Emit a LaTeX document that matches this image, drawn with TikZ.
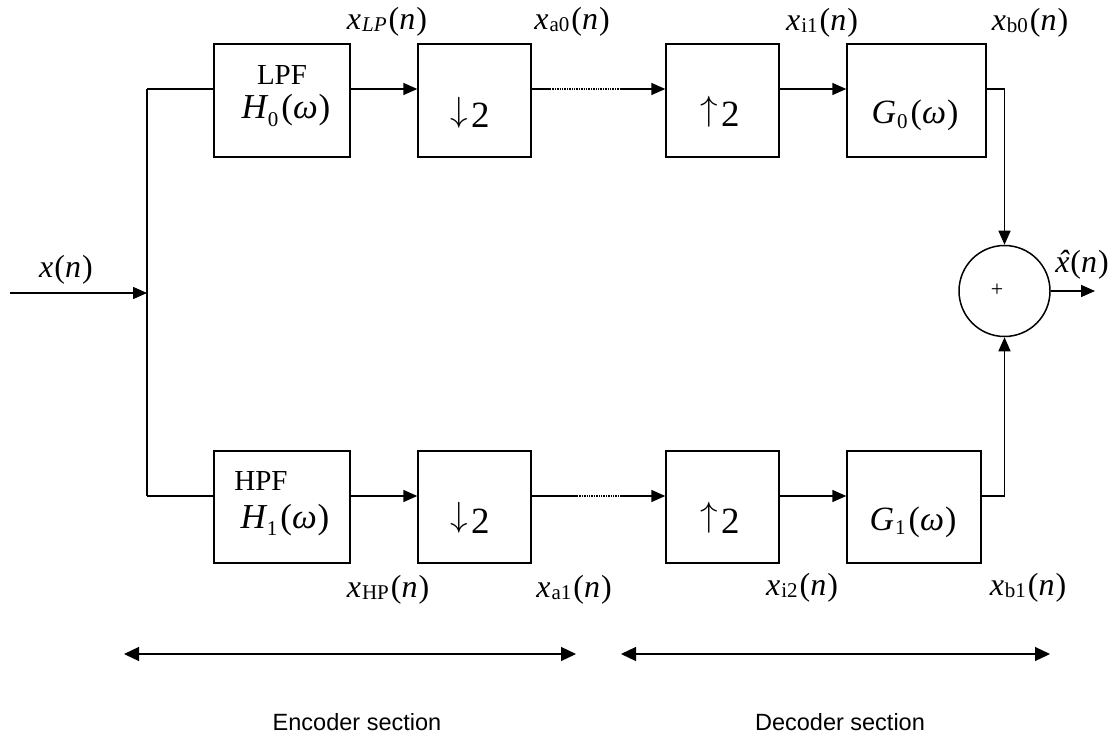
\documentclass[tikz,border=0pt]{standalone}
\usepackage{fontspec}
\setmainfont{Liberation Serif}
\newfontfamily\arialfont{Liberation Sans}
\usetikzlibrary{arrows.meta}
\newcommand\fs[1]{\fontsize{#1}{#1}\selectfont}
\newcommand\sigl[1]{{\fs{32}\itshape x}\kern1pt\raisebox{-0.2em}{\fs{21}#1}\kern2pt{\fs{32}(\textit{n}\kern1pt)}}
\newcommand\filt[4]{{\fs{#1}\itshape #2}\kern1pt\raisebox{#4}{\fs{21}#3}\kern3pt{\fs{#1}(\textit{ω}\kern1pt)}}
\newcommand\dn{\raisebox{6.8pt}{\scalebox{3.5}{$\downarrow$}}}
\newcommand\upar{\raisebox{6.8pt}{\scalebox{3.5}{$\uparrow$}}}
\begin{document}
\begin{tikzpicture}[x=1pt,y=-1pt,line width=1.5pt,
  >={Triangle[length=14pt,width=12pt]},
  blk/.style={draw,line width=1.5pt,inner sep=0pt,minimum height=113pt},
  txt/.style={inner sep=0pt,anchor=base},
  dots/.style={line width=1.1pt,dash pattern=on 1.4pt off 1pt},
  span/.style={<->,line width=1.2pt,>={Triangle[length=15pt,width=14pt]}}]
\useasboundingbox (0,0) rectangle (1115,735);
% blocks
\node[blk,minimum width=136pt] (H0) at (282,100.5) {};
\node[blk,minimum width=113pt] (D0) at (474.5,100.5) {};
\node[blk,minimum width=113pt] (U0) at (722.5,100.5) {};
\node[blk,minimum width=139pt] (G0) at (916.5,100.5) {};
\node[blk,minimum width=136pt,minimum height=112pt] (H1) at (282,507) {};
\node[blk,minimum width=113pt,minimum height=112pt] (D1) at (474.5,507) {};
\node[blk,minimum width=113pt,minimum height=112pt] (U1) at (722.5,507) {};
\node[blk,minimum width=134pt,minimum height=112pt] (G1) at (914,507) {};
\node[draw,circle,line width=1.5pt,minimum size=91pt,inner sep=0pt] (S) at (1004.5,291) {};
% block texts
\node[txt] (tLPF) at (282,85) {\fs{29}LPF};
\node[txt] (tH0) at (286,119) {\filt{35}{H}{0}{-0.75em}};
\node[txt] (tD0) at (470,128) {\dn\kern3pt\fs{37}2};
\node[txt] (tU0) at (720,127) {\upar\kern3pt\fs{37}2};
\node[txt] (tG0) at (915,124) {\filt{34}{G}{0}{-0.45em}};
\node[txt] (tHPF) at (261,490) {\fs{29}HPF};
\node[txt] (tH1) at (285,528) {\filt{35}{H}{1}{-0.75em}};
\node[txt] (tD1) at (470,533) {\dn\kern3pt\fs{37}2};
\node[txt] (tU1) at (720,533) {\upar\kern3pt\fs{37}2};
\node[txt] (tG1) at (913,530) {\filt{34}{G}{1}{-0.45em}};
\node[inner sep=0pt] (plus) at (997,290) {\fs{22}+};
% signal labels
\node[txt] (lLP) at (387,30) {\sigl{\itshape LP}};
\node[txt] (la0) at (572,30) {\sigl{a0}};
\node[txt] (li1) at (822,31) {\sigl{i1}};
\node[txt] (lb0) at (1030,31) {\sigl{b0}};
\node[txt] (lHP) at (388,597) {\sigl{HP}};
\node[txt] (la1) at (574,597) {\sigl{a1}};
\node[txt] (li2) at (802,595) {\sigl{i2}};
\node[txt] (lb1) at (1028,595) {\sigl{b1}};
\node[txt] (lx) at (66,277) {\fs{32}\textit{x}\kern1pt(\textit{n}\kern1pt)};
\node[txt] (lxh) at (1082,272) {\fs{32}{\itshape\rlap{\kern0.08em ˆ}x}\kern1pt(\textit{n}\kern1pt)};
\node[txt] (enc) at (357,730) {\arialfont\fs{23.5}Encoder section};
\node[txt] (dec) at (840,730) {\arialfont\fs{23.5}Decoder section};
% coordinates
\coordinate (rowT) at (0,89);
\coordinate (rowB) at (0,496);
\coordinate (in) at (10,293);
\coordinate (j) at (147,293);
\coordinate (jT) at (147,89);
\coordinate (jB) at (147,496);
\coordinate (dT1) at (550,89);
\coordinate (dT2) at (621,89);
\coordinate (dB1) at (577,496);
\coordinate (dB2) at (621,496);
\coordinate (out) at (1095,291);
\coordinate (e1) at (124,654);
\coordinate (e2) at (576,654);
\coordinate (d1) at (621,654);
\coordinate (d2) at (1050,654);
% connectors
\draw[->] (in) -- (j);
\draw (jT) -- (jB);
\draw (jT) -- (H0.west |- rowT);
\draw (jB) -- (H1.west |- rowB);
\draw[->] (H0.east |- rowT) -- (D0.west |- rowT);
\draw[->] (H1.east |- rowB) -- (D1.west |- rowB);
\draw (D0.east |- rowT) -- (dT1);
\draw[dots] (dT1) -- (dT2);
\draw[->] (dT2) -- (U0.west |- rowT);
\draw (D1.east |- rowB) -- (dB1);
\draw[dots] (dB1) -- (dB2);
\draw[->] (dB2) -- (U1.west |- rowB);
\draw[->] (U0.east |- rowT) -- (G0.west |- rowT);
\draw[->] (U1.east |- rowB) -- (G1.west |- rowB);
\draw[->] (G0.east |- rowT) -| (S.north);
\draw[->] (G1.east |- rowB) -| (S.south);
\draw[->] (S.east) -- (out);
\draw[span] (e1) -- (e2);
\draw[span] (d1) -- (d2);
\end{tikzpicture}
\end{document}
